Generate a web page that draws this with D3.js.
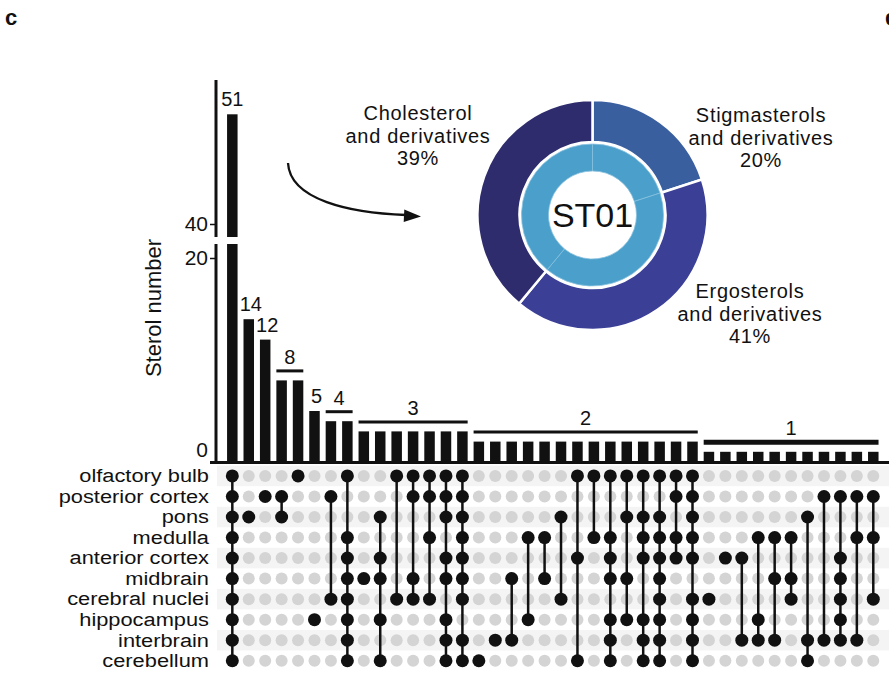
<!DOCTYPE html>
<html>
<head>
<meta charset="utf-8">
<script src="https://cdn.jsdelivr.net/npm/d3@7"></script>
<style>
  body { margin: 0; background: #fff; }
  svg text { font-family: "Liberation Sans", Arial, sans-serif; fill: #111; }
</style>
</head>
<body>
<svg width="889" height="678"></svg>
<script>
// brain regions, matrix rows top to bottom
const regions = ["olfactory bulb", "posterior cortex", "pons", "medulla", "anterior cortex",
    "midbrain", "cerebral nuclei", "hippocampus", "interbrain", "cerebellum"];

// sterol count of each intersection
const counts = [51, 14, 12, 8, 8, 5, 4, 4,
    3, 3, 3, 3, 3, 3, 3,
    2, 2, 2, 2, 2, 2, 2, 2, 2, 2, 2, 2, 2, 2,
    1, 1, 1, 1, 1, 1, 1, 1, 1, 1, 1];

// regions (row index) present in each intersection
const members = [
    [0, 1, 2, 3, 4, 5, 6, 7, 8, 9], [2], [1], [1, 2], [0], [7], [1, 6], [0, 3, 4, 5, 6, 7, 8, 9],
    [5], [2, 4, 5, 7, 9], [0, 6], [0, 1, 5, 6], [0, 1, 3, 6], [0, 1, 2, 4, 5, 7, 8, 9], [0, 1, 2, 3, 4, 5, 6, 8, 9],
    [9], [8], [5, 8], [3, 7], [3, 5], [2, 6], [0, 4, 9], [0, 3], [0, 3, 4, 5, 7, 8, 9], [0, 2, 5, 7],
    [0, 2, 3, 4, 7, 8, 9], [0, 2, 3, 4, 5, 6, 7, 8, 9], [0, 1, 3, 4], [0, 1, 2, 3, 4, 6, 7, 8, 9],
    [6], [4], [4, 8], [3, 7, 8], [3, 5, 8], [3, 5, 6], [2, 8, 9], [1, 8], [1, 4, 5, 6, 7, 8], [1, 3, 8], [1, 3, 6]
];

// ST01 sterol classes
const classNames = ["Stigmasterols", "Ergosterols", "Cholesterol"];
const classShares = [20, 41, 39];
const classColors = ["#3a5f9e", "#3b3f96", "#2e2c6c"];

const svg = d3.select("svg");

// panel letter, and the edge of the next panel
svg.append("text").attr("x", 5).attr("y", 25)
    .style("font-size", "22px").style("font-weight", "bold").text("c");
svg.append("text").attr("x", 885).attr("y", 25)
    .style("font-size", "22px").style("font-weight", "bold").text("d");

// scales
const x = d3.scaleBand().domain(d3.range(counts.length)).range([224.1, 881.5]);
const barW = 10.5;
const cx = i => x(i) + x.bandwidth() / 2;

const yLow = d3.scaleLinear().domain([0, 20]).range([462, 258]);
const yHigh = d3.scaleLinear().domain([40, 51]).range([224, 114.3]);
const lowTop = 244, highBottom = 237, highTop = 80;

const row = d3.scaleBand().domain(d3.range(regions.length)).range([465.7, 671]);
const cy = r => row(r) + row.bandwidth() / 2;

// matrix stripes
svg.append("g").selectAll("rect")
    .data(d3.range(regions.length).filter(r => r % 2 === 0))
    .join("rect")
    .attr("x", 217).attr("width", 672)
    .attr("y", r => row(r)).attr("height", row.bandwidth())
    .attr("fill", "#f4f4f4");

// bars
const bars = svg.append("g").attr("fill", "#111");
counts.forEach((v, i) => {
    const top = v > 20 ? lowTop : yLow(v);
    bars.append("rect").attr("x", cx(i) - barW / 2).attr("width", barW)
        .attr("y", top).attr("height", yLow(0) - top);
    if (v > 20) {
        bars.append("rect").attr("x", cx(i) - barW / 2).attr("width", barW)
            .attr("y", yHigh(v)).attr("height", highBottom - yHigh(v));
    }
});

// value labels: single bars get a number, runs of equal bars get a bracket
const runs = [];
counts.forEach((v, i) => {
    const last = runs[runs.length - 1];
    if (last && last.v === v) last.end = i;
    else runs.push({v: v, start: i, end: i});
});
const labels = svg.append("g").style("font-size", "20px").attr("text-anchor", "middle");
runs.forEach(r => {
    const top = r.v > 20 ? yHigh(r.v) : yLow(r.v);
    const mid = (cx(r.start) + cx(r.end)) / 2;
    if (r.start === r.end) {
        labels.append("text").attr("x", mid + (r.v > 20 ? 0 : 2)).attr("y", top - 8).text(r.v);
    } else {
        const by = top - 9.5;
        const thick = r.v === 1 ? 5 : 3;
        svg.append("line")
            .attr("x1", cx(r.start) - barW / 2).attr("x2", cx(r.end) + barW / 2)
            .attr("y1", by).attr("y2", by)
            .attr("stroke", "#111").attr("stroke-width", thick);
        labels.append("text").attr("x", mid).attr("y", by - 7).text(r.v);
    }
});

// broken y axis
const axisLow = svg.append("g").attr("transform", "translate(216,0)")
    .call(d3.axisLeft(yLow).tickValues([0, 20]).tickSize(6).tickPadding(2));
const axisHigh = svg.append("g").attr("transform", "translate(216,0)")
    .call(d3.axisLeft(yHigh).tickValues([40]).tickSize(6).tickPadding(2));
[axisLow, axisHigh].forEach(g => {
    g.select(".domain").remove();
    g.selectAll("text").style("font-size", "21px").attr("fill", "#111");
    g.selectAll("line").attr("stroke", "#111").attr("stroke-width", 1.5);
});
axisLow.selectAll(".tick").filter(d => d === 0).select("line").remove();
axisLow.selectAll(".tick").filter(d => d === 0).select("text").attr("dy", "-0.25em");
svg.append("line").attr("x1", 216).attr("x2", 216).attr("y1", yLow(0)).attr("y2", lowTop)
    .attr("stroke", "#111").attr("stroke-width", 3);
svg.append("line").attr("x1", 216).attr("x2", 216).attr("y1", highBottom).attr("y2", highTop)
    .attr("stroke", "#111").attr("stroke-width", 3);
svg.append("line").attr("x1", 210).attr("x2", 889).attr("y1", yLow(0) + 0.5).attr("y2", yLow(0) + 0.5)
    .attr("stroke", "#111").attr("stroke-width", 3);

svg.append("text")
    .attr("transform", "translate(161,308) rotate(-90)")
    .attr("text-anchor", "middle").style("font-size", "22px")
    .text("Sterol number");

// row labels (the source font is set wide, so stretch it horizontally)
svg.append("g").selectAll("text").data(regions).join("text")
    .attr("transform", (d, i) => `translate(209,${cy(i)}) scale(1.24,1)`)
    .attr("dy", "0.36em")
    .attr("text-anchor", "end").style("font-size", "17.6px")
    .text(d => d);

// matrix dots
const matrix = svg.append("g");
members.forEach((m, i) => {
    matrix.selectAll(null).data(d3.range(regions.length).filter(r => !m.includes(r)))
        .join("circle").attr("cx", cx(i)).attr("cy", r => cy(r)).attr("r", 6)
        .attr("fill", "#d4d4d4");
    if (m.length > 1) {
        matrix.append("line").attr("x1", cx(i)).attr("x2", cx(i))
            .attr("y1", cy(d3.min(m))).attr("y2", cy(d3.max(m)))
            .attr("stroke", "#111").attr("stroke-width", 2.5);
    }
    matrix.selectAll(null).data(m)
        .join("circle").attr("cx", cx(i)).attr("cy", r => cy(r)).attr("r", 6.5)
        .attr("fill", "#111");
});

// donut
const pie = d3.pie().sort(null)(classShares);
const donut = svg.append("g").attr("transform", "translate(592.5,215)");
donut.selectAll(".outer").data(pie).join("path")
    .attr("d", d3.arc().innerRadius(73).outerRadius(115))
    .attr("fill", (d, i) => classColors[i])
    .attr("stroke", "#fff").attr("stroke-width", 2.5);
donut.selectAll(".inner").data(pie).join("path")
    .attr("d", d3.arc().innerRadius(44).outerRadius(71))
    .attr("fill", "#4a9fcb")
    .attr("stroke", "#86c0de").attr("stroke-width", 0.8);
donut.append("text").attr("text-anchor", "middle").attr("dy", "0.36em")
    .style("font-size", "34px").text("ST01");

// class labels
const classLabelPos = [[761, 122], [750, 298], [418, 120]];
classNames.forEach((name, i) => {
    const t = svg.append("text").attr("text-anchor", "middle")
        .style("font-size", "20px").style("letter-spacing", "0.7px");
    [name, "and derivatives", classShares[i] + "%"].forEach((line, k) => {
        t.append("tspan").attr("x", classLabelPos[i][0])
            .attr("y", classLabelPos[i][1] + k * 22.5).text(line);
    });
});

// arrow
svg.append("path")
    .attr("d", "M288,163 C290,200 350,213 406,215")
    .attr("fill", "none").attr("stroke", "#111").attr("stroke-width", 2.3);
svg.append("path")
    .attr("d", "M421,216.5 L404.3,209.5 L403.7,222 Z")
    .attr("fill", "#111");
</script>
</body>
</html>
